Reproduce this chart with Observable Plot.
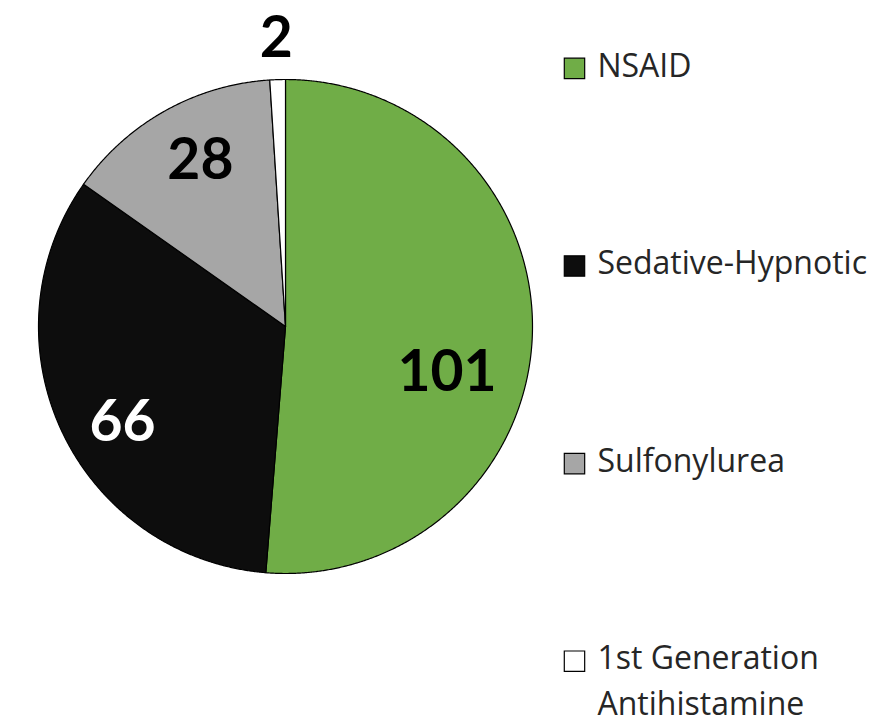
<!DOCTYPE html>
<html>
<head>
<meta charset="utf-8">
<script src="https://cdn.jsdelivr.net/npm/d3@7"></script>
<script src="https://cdn.jsdelivr.net/npm/@observablehq/plot@0.6"></script>
<style>
  html, body { margin: 0; padding: 0; background: #fff; }
  #chart svg { overflow: visible; display: block; }
</style>
</head>
<body>
<div id="chart"></div>
<script>
const categories = ["NSAID", "Sedative-Hypnotic", "Sulfonylurea", "1st Generation\nAntihistamine"];
const values = [101, 66, 28, 2];
const sliceColors = ["#70AD47", "#0D0D0D", "#A6A6A6", "#FFFFFF"];
const labelColors = ["#000000", "#FFFFFF", "#000000", "#000000"];
// label placement (fraction of radius, angular nudge in degrees from slice middle)
const labelRadius = [0.68, 0.766, 0.755, 1.166];
const labelNudge = [13.6, -5.4, 2.1, 0];

const arcs = d3.pie().sort(null).value(d => d)(values);

// slice outlines built from the pie angles
const pts = [];
arcs.forEach((a, i) => {
  const cat = categories[i];
  pts.push({cat, x: 0, y: 0});
  const n = Math.max(2, Math.ceil((a.endAngle - a.startAngle) / 0.005));
  for (let k = 0; k <= n; k++) {
    const t = a.startAngle + (a.endAngle - a.startAngle) * k / n;
    pts.push({cat, x: Math.sin(t), y: Math.cos(t)});
  }
});

const labels = arcs.map((a, i) => {
  const m = (a.startAngle + a.endAngle) / 2 + labelNudge[i] * Math.PI / 180;
  return {text: String(values[i]), x: Math.sin(m) * labelRadius[i], y: Math.cos(m) * labelRadius[i], color: labelColors[i]};
});

const legendX = 1.17, legendTextX = 1.263, legendTop = 1.045, legendStep = 0.8;
const legend = categories.map((c, i) => ({cat: c, x: legendX, y: legendTop - i * legendStep}));

const labelFont = "Lato, 'Open Sans', sans-serif";
const legendFont = "'Open Sans', Lato, sans-serif";

const chart = Plot.plot({
  width: 886,
  height: 724,
  marginLeft: 38,
  marginRight: 354,
  marginTop: 79,
  marginBottom: 151,
  x: {domain: [-1, 1], axis: null},
  y: {domain: [-1, 1], axis: null},
  color: {domain: categories, range: sliceColors},
  style: {fontFamily: labelFont, background: "#fff"},
  marks: [
    Plot.line(pts, {x: "x", y: "y", z: "cat", fill: "cat", stroke: "#000", strokeWidth: 1.2, curve: "linear-closed"}),
    Plot.text(labels.filter(d => d.color === "#000000"), {x: "x", y: "y", text: "text", fill: "#000", fontSize: 57, fontWeight: "bold", fontFamily: labelFont}),
    Plot.text(labels.filter(d => d.color === "#FFFFFF"), {x: "x", y: "y", text: "text", fill: "#fff", fontSize: 57, fontWeight: "bold", fontFamily: labelFont}),
    Plot.dot(legend, {x: "x", y: "y", symbol: "square", r: 11.5, fill: "cat", stroke: "#000", strokeWidth: 1.2}),
    Plot.text(legend, {x: () => legendTextX, y: "y", text: "cat", textAnchor: "start", lineAnchor: "top", dy: -24, fontSize: 32, lineHeight: 1.42, fill: "#262626", fontFamily: legendFont})
  ]
});
document.getElementById("chart").append(chart);
</script>
</body>
</html>
